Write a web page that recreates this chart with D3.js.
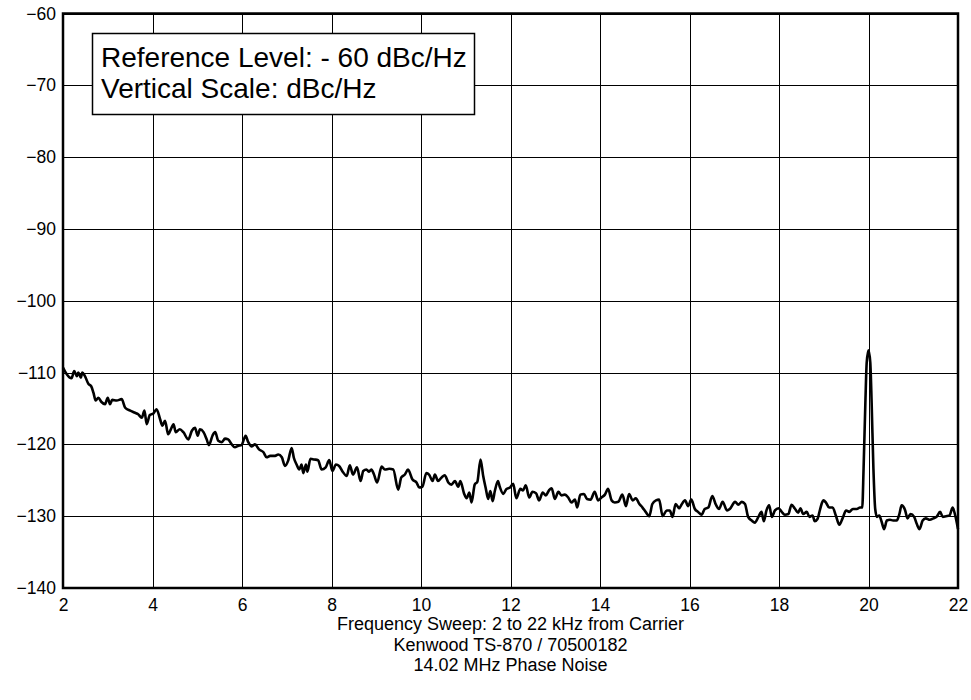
<!DOCTYPE html>
<html>
<head>
<meta charset="utf-8">
<script src="https://cdn.jsdelivr.net/npm/d3@7"></script>
<style>
  html, body { margin: 0; padding: 0; background: #fff; }
  svg { display: block; font-family: "Liberation Sans", Arial, Helvetica, sans-serif; }
</style>
</head>
<body>
<svg id="chart" width="971" height="700"></svg>
<script>
// ---- data ----
const freqKHz = [
  2.00,2.08,2.19,2.25,2.31,2.34,2.40,2.43,2.49,2.57,2.63,2.68,2.73,2.79,2.86,2.94,3.00,3.05,3.10,3.20,
  3.31,3.39,3.50,3.61,3.68,3.76,3.82,3.87,3.94,4.02,4.09,4.17,4.22,4.28,4.35,4.41,4.47,4.52,4.61,4.69,
  4.80,4.88,4.95,5.01,5.06,5.14,5.21,5.26,5.34,5.40,5.47,5.55,5.62,5.69,5.77,5.84,5.92,5.99,6.08,6.14,
  6.22,6.29,6.38,6.48,6.55,6.63,6.74,6.81,6.89,6.96,
  7.03,7.11,7.16,7.22,7.28,7.33,7.37,7.43,7.46,7.53,7.61,7.70,7.78,7.87,7.95,8.02,8.10,8.17,8.25,8.34,
  8.41,8.48,8.57,8.65,8.71,8.78,8.84,8.89,8.95,9.02,9.12,9.19,9.29,9.38,9.49,9.56,9.64,9.71,9.81,9.90,
  9.96,10.03,10.12,10.18,10.26,10.31,10.38,10.46,10.53,10.61,10.68,10.76,10.83,10.88,10.96,11.02,11.08,11.13,11.20,11.26,
  11.33,11.39,11.45,11.50,11.55,11.60,11.65,11.72,11.76,
  11.84,11.91,11.99,12.06,12.13,12.22,12.28,12.34,12.42,12.49,12.57,12.64,12.72,12.79,12.86,12.92,12.99,13.07,13.14,13.21,
  13.29,13.36,13.44,13.49,13.56,13.64,13.71,13.79,13.88,13.96,14.03,14.11,14.18,14.26,14.33,14.41,14.50,14.58,14.65,14.73,
  14.80,14.88,14.95,15.02,15.10,15.17,15.25,15.32,15.40,15.49,15.56,15.62,15.69,15.77,15.82,15.90,15.97,16.04,16.12,16.19,
  16.27,16.34,16.42,16.51,16.59,16.66,16.74,16.84,16.90,
  17.02,17.09,17.17,17.24,17.31,17.39,17.46,17.54,17.61,17.66,17.72,17.78,17.84,17.91,17.99,18.06,18.13,18.21,18.28,18.36,
  18.43,18.48,18.54,18.62,18.68,18.75,18.80,18.86,18.92,18.99,19.05,19.12,19.20,19.27,19.35,19.42,19.50,19.57,19.65,19.74,
  19.81,19.86,19.89,19.93,19.96,20.00,20.04,20.07,20.11,20.15,20.19,20.24,20.29,20.35,20.41,20.48,20.55,20.63,20.69,20.74,
  20.82,20.87,20.94,21.02,21.08,21.14,21.21,21.28,21.37,21.45,21.52,21.60,21.66,21.73,21.81,21.88,21.93,22.00
];
const noiseDbcHz = [
  -109.3,-110.2,-110.8,-109.8,-110.5,-110.0,-110.7,-110.0,-110.5,-111.6,-111.9,-112.8,-113.9,-113.5,-114.1,-114.4,-113.5,-114.4,-113.8,-113.9,
  -113.7,-114.9,-115.3,-115.6,-115.8,-116.3,-115.3,-117.2,-115.9,-115.7,-115.1,-116.5,-117.4,-116.7,-118.6,-117.9,-117.2,-118.3,-117.9,-118.3,
  -119.3,-118.1,-117.7,-118.8,-117.9,-118.3,-119.3,-120.1,-118.8,-118.3,-119.5,-119.7,-119.2,-119.3,-120.0,-120.4,-120.2,-120.1,-118.8,-119.7,
  -120.3,-120.0,-120.7,-121.1,-121.8,-121.6,-121.6,-121.4,-121.8,-123.0,
  -122.3,-120.5,-121.9,-122.8,-123.5,-122.8,-124.0,-122.8,-123.8,-122.0,-122.1,-122.2,-123.5,-123.2,-122.2,-123.7,-122.8,-123.0,-123.8,-124.4,
  -122.9,-124.2,-123.2,-125.1,-123.7,-123.5,-123.8,-123.5,-124.2,-125.3,-123.1,-123.5,-123.4,-123.5,-126.3,-124.6,-124.2,-123.5,-124.9,-125.3,
  -126.0,-125.9,-124.0,-124.2,-125.1,-124.2,-125.1,-124.6,-124.3,-125.3,-125.6,-125.1,-125.9,-125.1,-126.8,-127.5,-126.7,-128.1,-125.6,-125.2,
  -122.1,-124.4,-126.2,-127.6,-126.5,-127.9,-126.5,-125.1,-125.9,
  -126.9,-126.2,-126.0,-125.5,-127.5,-126.2,-126.4,-125.7,-127.4,-126.6,-126.8,-127.8,-126.7,-127.1,-126.4,-126.1,-127.6,-126.6,-127.1,-127.0,
  -127.4,-128.1,-127.7,-128.8,-127.0,-126.9,-127.6,-127.7,-126.6,-127.8,-127.4,-127.0,-126.2,-127.8,-128.1,-128.0,-127.0,-128.6,-126.9,-127.8,
  -127.5,-128.3,-128.8,-129.4,-130.0,-128.3,-127.8,-127.7,-130.0,-129.2,-129.2,-130.1,-128.3,-128.9,-128.4,-127.8,-128.6,-127.7,-129.0,-129.4,
  -129.8,-129.0,-128.8,-127.2,-128.4,-129.0,-128.0,-129.2,-129.0,
  -128.0,-128.4,-128.0,-128.3,-130.1,-130.6,-130.9,-130.1,-129.4,-130.7,-129.2,-128.5,-130.1,-129.2,-128.9,-129.4,-129.8,-129.7,-128.4,-129.0,
  -129.5,-128.9,-129.7,-129.4,-130.1,-129.9,-130.7,-130.4,-129.0,-127.8,-128.1,-128.8,-128.8,-129.9,-131.2,-130.3,-129.2,-129.4,-129.0,-129.0,
  -128.8,-128.8,-123.4,-114.2,-108.6,-106.9,-108.6,-114.2,-123.4,-129.0,-130.1,-129.9,-130.7,-131.8,-130.6,-130.5,-130.6,-130.6,-129.7,-128.5,
  -129.2,-130.3,-129.7,-130.1,-131.1,-131.8,-130.6,-130.3,-130.5,-130.3,-130.1,-129.4,-130.1,-130.0,-129.9,-128.8,-129.7,-131.8
];
const xTicks = [2, 4, 6, 8, 10, 12, 14, 16, 18, 20, 22];
const yTicks = [-140, -130, -120, -110, -100, -90, -80, -70, -60];
const legendLines = ["Reference Level: - 60 dBc/Hz", "Vertical Scale: dBc/Hz"];
const titleLines = [
  "Frequency Sweep: 2 to 22 kHz from Carrier",
  "Kenwood TS-870 / 70500182",
  "14.02 MHz Phase Noise"
];

// ---- layout ----
const svg = d3.select("#chart");
const L = 63, R = 958, T = 13.5, B = 588;
const x = d3.scaleLinear().domain([2, 22]).range([L, R]);
const y = d3.scaleLinear().domain([-140, -60]).range([B, T]);

// grid
const gx = svg.append("g").attr("transform", `translate(0,${B})`)
  .call(d3.axisBottom(x).tickValues(xTicks).tickSize(-(B - T)).tickFormat(""));
gx.select(".domain").remove();
gx.selectAll("line").attr("stroke", "#000").attr("stroke-width", 1).attr("shape-rendering", "crispEdges");

const gy = svg.append("g").attr("transform", `translate(${L},0)`)
  .call(d3.axisLeft(y).tickValues(yTicks).tickSize(-(R - L)).tickFormat(""));
gy.select(".domain").remove();
gy.selectAll("line").attr("stroke", "#000").attr("stroke-width", 1).attr("shape-rendering", "crispEdges");

// tick labels
const yl = svg.append("g").attr("transform", `translate(${L},0)`)
  .call(d3.axisLeft(y).tickValues(yTicks).tickSize(0).tickPadding(7).tickFormat(d3.format("d")));
yl.select(".domain").remove();
yl.selectAll("text").attr("font-size", 17.5).attr("font-family", "Liberation Sans, Arial, sans-serif").attr("fill", "#000");

const xl = svg.append("g").attr("transform", `translate(0,${B})`)
  .call(d3.axisBottom(x).tickValues(xTicks).tickSize(0).tickPadding(11).tickFormat(d3.format("d")));
xl.select(".domain").remove();
xl.selectAll("text").attr("font-size", 17.5).attr("font-family", "Liberation Sans, Arial, sans-serif").attr("fill", "#000");

// trace
const pts = freqKHz.map((f, i) => [f, noiseDbcHz[i]]);
svg.append("path")
  .datum(pts)
  .attr("fill", "none")
  .attr("stroke", "#000")
  .attr("stroke-width", 2.6)
  .attr("stroke-linejoin", "round")
  .attr("d", d3.line().x(d => x(d[0])).y(d => y(d[1])).curve(d3.curveMonotoneX));

// frame
svg.append("rect")
  .attr("x", L).attr("y", T).attr("width", R - L).attr("height", B - T)
  .attr("fill", "none").attr("stroke", "#000").attr("stroke-width", 2.5);

// legend box
const lg = svg.append("g");
lg.append("rect").attr("x", 92.5).attr("y", 33.5).attr("width", 382).attr("height", 81)
  .attr("fill", "#fff").attr("stroke", "#000").attr("stroke-width", 1.5);
lg.selectAll("text.leg").data(legendLines).join("text")
  .attr("class", "leg")
  .attr("x", 101).attr("y", (d, i) => 67 + i * 31)
  .attr("font-size", 28).attr("fill", "#000")
  .text(d => d);

// titles
svg.selectAll("text.title").data(titleLines).join("text")
  .attr("class", "title")
  .attr("x", (L + R) / 2).attr("y", (d, i) => 630 + i * 20.5)
  .attr("text-anchor", "middle")
  .attr("font-size", 18).attr("fill", "#000")
  .text(d => d);
</script>
</body>
</html>
